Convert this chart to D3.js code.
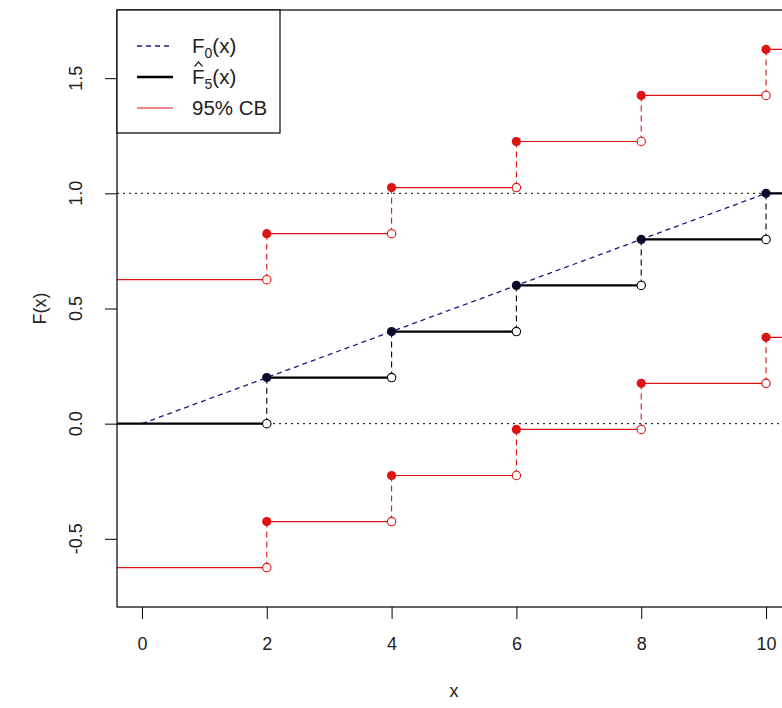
<!DOCTYPE html>
<html>
<head>
<meta charset="UTF-8">
<title>ECDF with 95% confidence band</title>
<script src="https://d3js.org/d3.v7.min.js"></script>
<style>
  body { margin: 0; background: #fff; }
  svg { display: block; font-family: "Liberation Sans", Arial, sans-serif; }
</style>
</head>
<body>
<svg id="chart" width="782" height="708"></svg>
<script>
// jump points of the empirical cdf (n = 5)
const jumps = [2, 4, 6, 8, 10];
const ecdfBefore = [0, 0.2, 0.4, 0.6, 0.8];   // value just left of each jump
const ecdfAfter  = [0.2, 0.4, 0.6, 0.8, 1.0]; // value at / right of each jump
// 95% confidence band
const upperBefore = [0.625, 0.825, 1.025, 1.225, 1.425];
const upperAfter  = [0.825, 1.025, 1.225, 1.425, 1.625];
const lowerBefore = [-0.625, -0.425, -0.225, -0.025, 0.175];
const lowerAfter  = [-0.425, -0.225, -0.025, 0.175, 0.375];
// hypothesised cdf F0 (uniform on 0..10)
const f0x = [0, 10, 12];
const f0y = [0, 1, 1];
const xTicks = [0, 2, 4, 6, 8, 10];
const yTicks = [-0.5, 0, 0.5, 1.0, 1.5];
const refLines = [0, 1];

const svg = d3.select('#chart');
const plot = { left: 117, right: 791, top: 10, bottom: 607 };
const textColor = '#222';
const red = '#dc1414';

const x = d3.scaleLinear().domain([-0.4, 10.4]).range([plot.left, plot.right]);
const y = d3.scaleLinear().domain([-0.796, 1.796]).range([plot.bottom, plot.top]);

svg.append('rect').attr('width', 782).attr('height', 708).attr('fill', '#fff');

svg.append('clipPath').attr('id', 'clip')
  .append('rect')
  .attr('x', plot.left).attr('y', plot.top)
  .attr('width', plot.right - plot.left).attr('height', plot.bottom - plot.top);

const g = svg.append('g').attr('clip-path', 'url(#clip)');

// dotted reference lines at 0 and 1
g.selectAll('.ref').data(refLines).enter().append('line')
  .attr('x1', plot.left).attr('x2', plot.right)
  .attr('y1', d => y(d)).attr('y2', d => y(d))
  .attr('stroke', '#000').attr('stroke-width', 1)
  .attr('stroke-dasharray', '2,4');

// F0 line
const line = d3.line().x(d => x(d[0])).y(d => y(d[1]));
g.append('path')
  .datum(f0x.map((v, i) => [v, f0y[i]]))
  .attr('d', line)
  .attr('fill', 'none').attr('stroke', '#1a1a80').attr('stroke-width', 1.3)
  .attr('stroke-dasharray', '5,4');

// horizontal pieces of a step function
function steps(before, after) {
  const segs = [];
  const xs = [-1].concat(jumps).concat([12]);
  const vals = before.concat([after[after.length - 1]]);
  for (let i = 0; i < vals.length; i++) {
    segs.push({ x0: xs[i], x1: xs[i + 1], v: vals[i] });
  }
  return segs;
}

function drawStep(before, after, color, width, dotFill) {
  const segs = steps(before, after);
  g.append('g').selectAll('line').data(segs).enter().append('line')
    .attr('x1', d => x(d.x0)).attr('x2', d => x(d.x1))
    .attr('y1', d => y(d.v)).attr('y2', d => y(d.v))
    .attr('stroke', color).attr('stroke-width', width);

  // dashed verticals at jumps
  g.append('g').selectAll('line').data(jumps).enter().append('line')
    .attr('x1', d => x(d)).attr('x2', d => x(d))
    .attr('y1', (d, i) => y(before[i])).attr('y2', (d, i) => y(after[i]))
    .attr('stroke', color).attr('stroke-width', 1.1)
    .attr('stroke-dasharray', '6,4');

  // open circles (left limit)
  g.append('g').selectAll('circle').data(jumps).enter().append('circle')
    .attr('cx', d => x(d)).attr('cy', (d, i) => y(before[i]))
    .attr('r', 4.2).attr('fill', '#fff').attr('stroke', color).attr('stroke-width', 1.1);

  // filled circles (value at the jump)
  g.append('g').selectAll('circle').data(jumps).enter().append('circle')
    .attr('cx', d => x(d)).attr('cy', (d, i) => y(after[i]))
    .attr('r', 4.6).attr('fill', dotFill);
}

drawStep(upperBefore, upperAfter, red, 1.2, red);
drawStep(lowerBefore, lowerAfter, red, 1.2, red);
drawStep(ecdfBefore, ecdfAfter, '#000', 2.3, '#0b0b2a');

// frame
svg.append('rect')
  .attr('x', plot.left).attr('y', plot.top)
  .attr('width', plot.right - plot.left).attr('height', plot.bottom - plot.top)
  .attr('fill', 'none').attr('stroke', '#000').attr('stroke-width', 1.2);

// x axis
const xAxis = svg.append('g').attr('transform', `translate(0,${plot.bottom})`)
  .call(d3.axisBottom(x).tickValues(xTicks).tickSize(12).tickPadding(18).tickFormat(d3.format('d')));
xAxis.select('.domain').remove();
xAxis.selectAll('text').attr('font-size', 18).attr('fill', textColor)
  .attr('font-family', '"Liberation Sans", Arial, sans-serif');

// y axis: ticks from d3, labels rotated like base R (plain hyphen minus)
const yAxis = svg.append('g').attr('transform', `translate(${plot.left},0)`)
  .call(d3.axisLeft(y).tickValues(yTicks).tickSize(12).tickFormat(''));
yAxis.select('.domain').remove();
svg.append('g').selectAll('text').data(yTicks).enter().append('text')
  .attr('transform', d => `translate(76,${y(d)}) rotate(-90)`)
  .attr('text-anchor', 'middle').attr('dy', '0.35em')
  .attr('font-size', 18).attr('fill', textColor)
  .text(d => d.toFixed(1));

// axis titles
svg.append('text').attr('x', (plot.left + plot.right) / 2).attr('y', 697)
  .attr('text-anchor', 'middle').attr('font-size', 18).attr('fill', textColor).text('x');
svg.append('text')
  .attr('transform', `translate(46,${(plot.top + plot.bottom) / 2}) rotate(-90)`)
  .attr('text-anchor', 'middle').attr('font-size', 18).attr('fill', textColor).text('F(x)');

// legend
const leg = svg.append('g');
leg.append('rect').attr('x', plot.left).attr('y', plot.top).attr('width', 163).attr('height', 123)
  .attr('fill', '#fff').attr('stroke', '#000').attr('stroke-width', 1.2);
const legRows = [
  { y: 46, color: '#1a1a80', width: 1.3, dash: '5,4' },
  { y: 77, color: '#000', width: 2.5, dash: null },
  { y: 108, color: red, width: 1.2, dash: null }
];
legRows.forEach(r => {
  leg.append('line').attr('x1', 137).attr('x2', 173).attr('y1', r.y).attr('y2', r.y)
    .attr('stroke', r.color).attr('stroke-width', r.width)
    .attr('stroke-dasharray', r.dash);
});
function subLabel(yPos, sub) {
  const t = leg.append('text').attr('x', 192).attr('y', yPos).attr('dy', '0.35em')
    .attr('font-size', 20.5).attr('fill', textColor);
  t.append('tspan').text('F');
  t.append('tspan').attr('font-size', 14).attr('dy', 5).text(sub);
  t.append('tspan').attr('dy', -5).text('(x)');
}
subLabel(46, '0');
subLabel(77, '5');
// hat over the F of the ecdf label
leg.append('path').attr('d', 'M194.5,66.5 L198.5,62 L202.5,66.5')
  .attr('fill', 'none').attr('stroke', textColor).attr('stroke-width', 1.2);
leg.append('text').attr('x', 192).attr('y', 108).attr('dy', '0.35em')
  .attr('font-size', 20.5).attr('fill', textColor).text('95% CB');
</script>
</body>
</html>
